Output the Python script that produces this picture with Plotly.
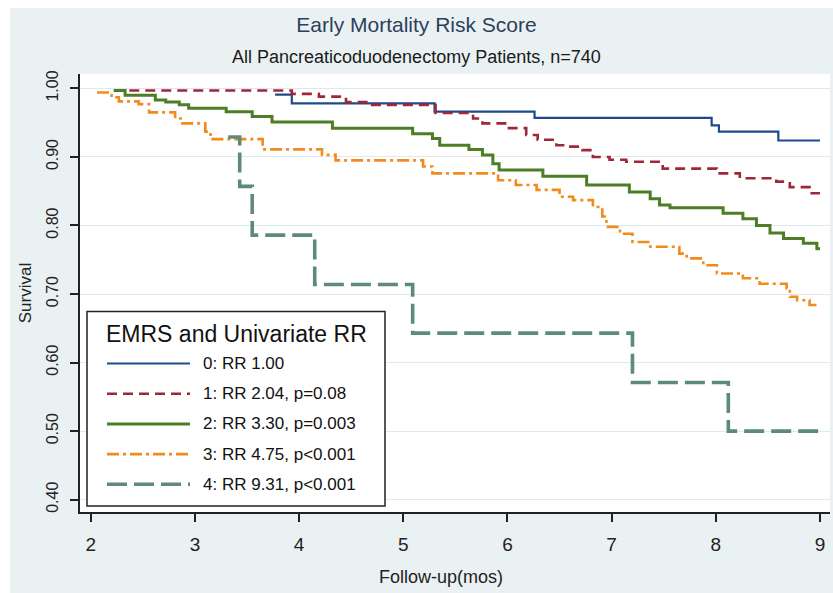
import plotly.graph_objects as go

# ---------------- data ----------------
t0 = [3.77, 3.93, 5.30, 6.26, 7.96, 8.03, 8.60, 9.00]
s0 = [0.991, 0.978, 0.966, 0.957, 0.946, 0.937, 0.924, 0.924]

t1 = [2.37, 3.93, 4.19, 4.45, 4.67, 5.31, 5.67, 5.76, 6.00, 6.18, 6.29, 6.47,
      6.56, 6.72, 6.82, 6.98, 7.14, 7.49, 8.01, 8.23, 8.58, 8.71, 8.90, 9.00]
s1 = [0.997, 0.992, 0.988, 0.980, 0.976, 0.964, 0.956, 0.949, 0.942, 0.932, 0.925, 0.917,
      0.915, 0.910, 0.900, 0.896, 0.893, 0.883, 0.876, 0.869, 0.864, 0.856, 0.847, 0.847]

t2 = [2.22, 2.33, 2.62, 2.72, 2.85, 2.94, 3.30, 3.55, 3.74, 4.32, 5.09, 5.28, 5.35,
      5.63, 5.76, 5.86, 5.92, 6.34, 6.76, 7.17, 7.37, 7.46, 7.56, 8.07, 8.26, 8.39,
      8.52, 8.65, 8.84, 8.97, 9.00]
s2 = [0.997, 0.990, 0.983, 0.980, 0.976, 0.971, 0.966, 0.959, 0.951, 0.942, 0.934, 0.927, 0.917,
      0.911, 0.903, 0.890, 0.881, 0.872, 0.859, 0.849, 0.839, 0.830, 0.826, 0.818, 0.810, 0.800,
      0.789, 0.781, 0.774, 0.766, 0.766]

t3 = [2.06, 2.20, 2.27, 2.46, 2.56, 2.81, 2.88, 3.10, 3.15, 3.65, 4.22, 4.35, 5.19, 5.28,
      5.91, 6.08, 6.28, 6.50, 6.63, 6.82, 6.91, 6.95, 7.08, 7.20, 7.37, 7.65, 7.72, 7.88,
      8.01, 8.26, 8.42, 8.68, 8.71, 8.78, 8.90, 9.00]
s3 = [0.994, 0.987, 0.981, 0.977, 0.965, 0.956, 0.949, 0.937, 0.926, 0.911, 0.903, 0.895, 0.886, 0.876,
      0.866, 0.859, 0.852, 0.842, 0.837, 0.827, 0.813, 0.798, 0.788, 0.776, 0.769, 0.759, 0.752, 0.742,
      0.730, 0.723, 0.715, 0.708, 0.696, 0.691, 0.684, 0.684]

t4 = [3.32, 3.43, 3.55, 4.15, 5.09, 7.20, 8.12, 9.00]
s4 = [0.929, 0.857, 0.786, 0.714, 0.643, 0.571, 0.500, 0.500]

labels = ["0: RR 1.00", "1: RR 2.04, p=0.08", "2: RR 3.30, p=0.003",
          "3: RR 4.75, p<0.001", "4: RR 9.31, p<0.001"]
legend_title = "EMRS and Univariate RR"
x_ticks = [2, 3, 4, 5, 6, 7, 8, 9]
y_ticks = [0.40, 0.50, 0.60, 0.70, 0.80, 0.90, 1.00]
y_ticktext = ["0.40", "0.50", "0.60", "0.70", "0.80", "0.90", "1.00"]

# ---------------- styles ----------------
colors = ["#1d4a8c", "#9e2838", "#4d7d25", "#f28a1c", "#5e8a7c"]
dashes = ["solid", "10px,6px", "solid", "12px,4px,3px,4px", "20px,7px"]
widths = [2.2, 2.6, 3.0, 2.6, 3.6]

W, H = 833, 593
L, R, T, B = 80, 3, 74, 81
PW, PH = W - L - R, H - T - B

def px(x):
    return (x - L) / PW

def py(y):
    return 1 - (y - T) / PH

font = "Liberation Sans, Arial, sans-serif"

fig = go.Figure()
for t, s, c, d, w in zip([t0, t1, t2, t3, t4], [s0, s1, s2, s3, s4], colors, dashes, widths):
    fig.add_trace(go.Scatter(x=t, y=s, mode="lines", line=dict(color=c, dash=d, width=w, shape="hv"),
                             showlegend=False, hoverinfo="skip"))

shapes = []
# light blue-grey frame background
shapes.append(dict(type="rect", xref="paper", yref="paper", layer="below",
                   x0=px(10), x1=px(W + 5), y0=py(H + 5), y1=py(8),
                   fillcolor="#e9f1f3", line=dict(width=0)))
shapes.append(dict(type="rect", xref="paper", yref="paper", layer="below",
                   x0=0, x1=1, y0=0, y1=1, fillcolor="white", line=dict(width=0)))

# manual legend
shapes.append(dict(type="rect", xref="paper", yref="paper", layer="above",
                   x0=px(87), x1=px(385), y0=py(506), y1=py(311.5),
                   fillcolor="white", line=dict(color="#222222", width=1.5)))
annotations = [
    dict(text=legend_title, xref="paper", yref="paper", x=px(236), y=py(334),
         xanchor="center", yanchor="middle", showarrow=False,
         font=dict(family=font, size=23, color="#111111")),
    dict(text="All Pancreaticoduodenectomy Patients, n=740", xref="paper", yref="paper",
         x=px(416.5), y=py(57), xanchor="center", yanchor="middle", showarrow=False,
         font=dict(family=font, size=18, color="#1a1a1a")),
    dict(text="Follow-up(mos)", xref="paper", yref="paper",
         x=px(441), y=py(577), xanchor="center", yanchor="middle", showarrow=False,
         font=dict(family=font, size=18, color="#222222")),
]
for i, lab in enumerate(labels):
    yy = 363.5 + 30.2 * i
    shapes.append(dict(type="line", xref="paper", yref="paper", layer="above",
                       x0=px(107), x1=px(190), y0=py(yy), y1=py(yy),
                       line=dict(color=colors[i], dash=dashes[i], width=widths[i])))
    annotations.append(dict(text=lab, xref="paper", yref="paper", x=px(201), y=py(yy),
                            xanchor="left", yanchor="middle", showarrow=False,
                            font=dict(family=font, size=17, color="#111111")))

fig.update_layout(
    width=W, height=H,
    margin=dict(l=L, r=R, t=T, b=B),
    paper_bgcolor="white", plot_bgcolor="rgba(0,0,0,0)",
    title=dict(text="Early Mortality Risk Score", x=0.5, xref="container", xanchor="center",
               y=1 - 25 / H, yref="container", yanchor="middle",
               font=dict(family=font, size=21, color="#2e3f5c")),
    shapes=shapes, annotations=annotations,
    xaxis=dict(range=[1.897, 9.096], tickvals=x_ticks, ticks="outside", ticklen=8, tickwidth=1.5,
               tickcolor="#222222", showline=True, linecolor="#222222", linewidth=1.5,
               showgrid=False, zeroline=False, ticklabelstandoff=6,
               tickfont=dict(family=font, size=19, color="#222222")),
    yaxis=dict(range=[0.382, 1.021], tickvals=y_ticks, ticktext=y_ticktext, tickangle=-90,
               ticks="outside", ticklen=8, tickwidth=1.5, tickcolor="#222222",
               showline=True, linecolor="#222222", linewidth=1.5,
               showgrid=True, gridcolor="#dde9ee", gridwidth=1, zeroline=False,
               ticklabelstandoff=6,
               tickfont=dict(family=font, size=16, color="#222222"),
               title=dict(text="Survival", standoff=8,
                          font=dict(family=font, size=17, color="#222222"))),
)

fig.write_html("out.html")
